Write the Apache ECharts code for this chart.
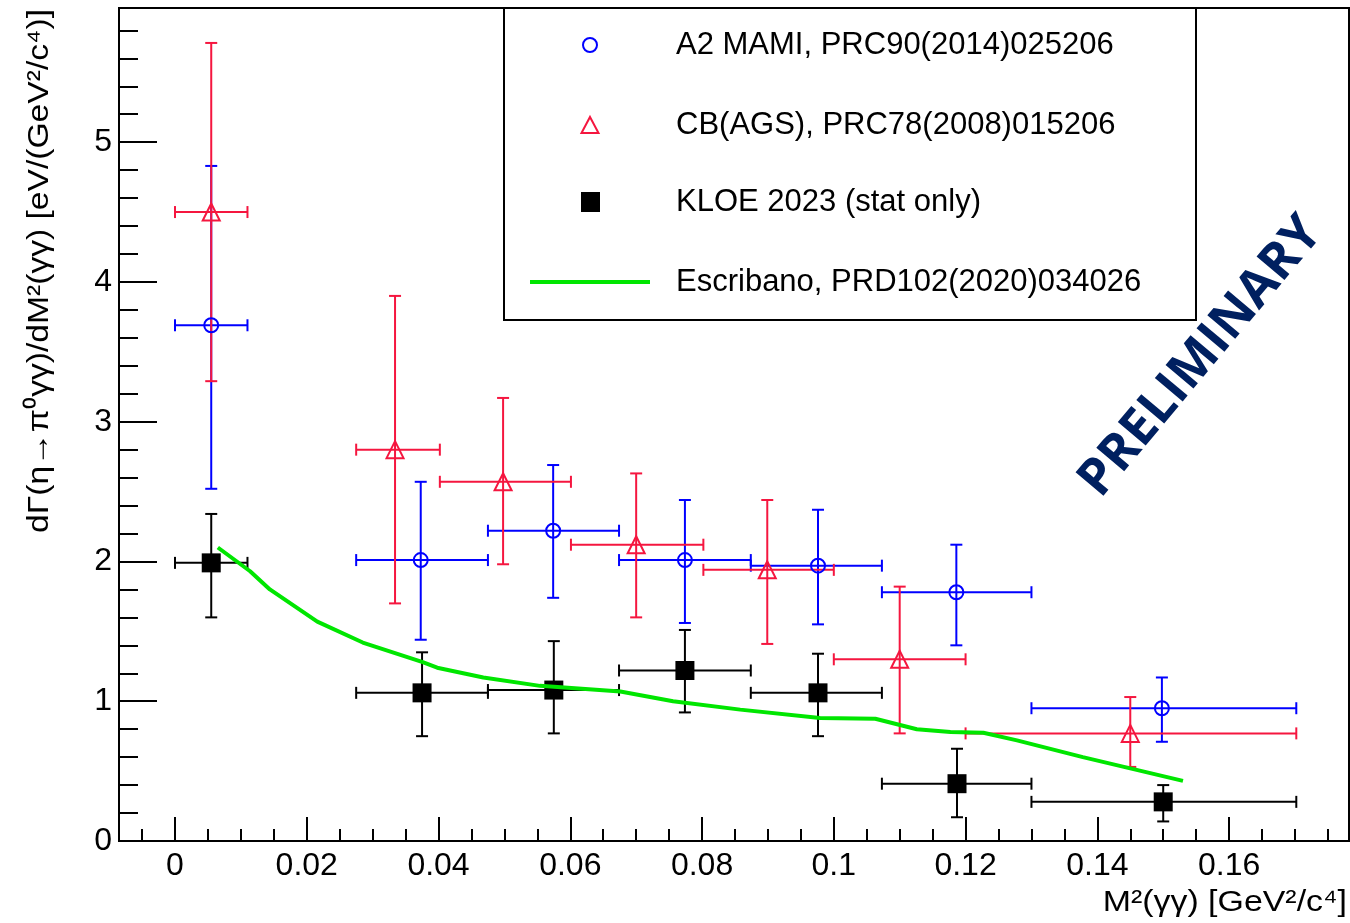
<!DOCTYPE html>
<html><head><meta charset="utf-8">
<script src="https://cdn.jsdelivr.net/npm/echarts@6/dist/echarts.min.js"></script>
<style>html,body{margin:0;padding:0;background:#fff}#c{width:1350px;height:923px}</style>
</head><body><div id="c"></div>
<script>
// ---------- data ----------
const a2Name = 'A2 MAMI, PRC90(2014)025206';
const a2X   = [0.0055, 0.0373, 0.0574, 0.0774, 0.0976, 0.1186, 0.1498];
const a2Y   = [3.69, 2.01, 2.22, 2.01, 1.97, 1.78, 0.95];
const a2XLo = [0.0, 0.0275, 0.0475, 0.0674, 0.0874, 0.1073, 0.1300];
const a2XHi = [0.011, 0.0475, 0.0674, 0.0874, 0.1073, 0.1300, 0.1702];
const a2YLo = [2.52, 1.44, 1.74, 1.56, 1.55, 1.40, 0.71];
const a2YHi = [4.83, 2.57, 2.69, 2.44, 2.37, 2.12, 1.17];

const cbName = 'CB(AGS), PRC78(2008)015206';
const cbX   = [0.0055, 0.0334, 0.0498, 0.0700, 0.0899, 0.1100, 0.1450];
const cbY   = [4.50, 2.80, 2.57, 2.12, 1.94, 1.30, 0.77];
const cbXLo = [0.0, 0.0275, 0.0402, 0.0601, 0.0802, 0.1000, 0.1200];
const cbXHi = [0.011, 0.0402, 0.0601, 0.0802, 0.1000, 0.1200, 0.1702];
const cbYLo = [3.29, 1.70, 1.98, 1.60, 1.41, 0.77, 0.53];
const cbYHi = [5.71, 3.90, 3.17, 2.63, 2.44, 1.82, 1.03];

const kName = 'KLOE 2023 (stat only)';
const kX   = [0.0055, 0.0375, 0.0575, 0.0774, 0.0976, 0.1187, 0.1500];
const kY   = [1.99, 1.06, 1.08, 1.22, 1.06, 0.41, 0.28];
const kXLo = [0.0, 0.0275, 0.0475, 0.0674, 0.0874, 0.1073, 0.1300];
const kXHi = [0.011, 0.0475, 0.0674, 0.0874, 0.1073, 0.1300, 0.1702];
const kYLo = [1.60, 0.75, 0.77, 0.92, 0.75, 0.17, 0.14];
const kYHi = [2.34, 1.35, 1.43, 1.51, 1.34, 0.66, 0.40];

const escName = 'Escribano, PRD102(2020)034026';
const escX = [0.0065, 0.0114, 0.0144, 0.0216, 0.0285, 0.0376, 0.0398, 0.0468, 0.0554, 0.0676, 0.0756, 0.0858, 0.0979, 0.1063, 0.1126, 0.1177, 0.1227, 0.1278, 0.1378, 0.1450, 0.1530];
const escY = [2.10, 1.93, 1.80, 1.57, 1.42, 1.28, 1.24, 1.17, 1.11, 1.07, 1.00, 0.94, 0.88, 0.875, 0.80, 0.78, 0.775, 0.72, 0.60, 0.52, 0.43];

const xMajorTicks = [0, 0.02, 0.04, 0.06, 0.08, 0.1, 0.12, 0.14, 0.16];
const xTickLabels = ['0', '0.02', '0.04', '0.06', '0.08', '0.1', '0.12', '0.14', '0.16'];
const xMinorTicks = [-0.005, 0.005, 0.01, 0.015, 0.025, 0.03, 0.035, 0.045, 0.05, 0.055, 0.065, 0.07, 0.075,
  0.085, 0.09, 0.095, 0.105, 0.11, 0.115, 0.125, 0.13, 0.135, 0.145, 0.15, 0.155, 0.165, 0.17, 0.175];
const yMajorTicks = [0, 1, 2, 3, 4, 5];
const yTickLabels = ['0', '1', '2', '3', '4', '5'];
const yMinorTicks = [0.2, 0.4, 0.6, 0.8, 1.2, 1.4, 1.6, 1.8, 2.2, 2.4, 2.6, 2.8, 3.2, 3.4, 3.6, 3.8,
  4.2, 4.4, 4.6, 4.8, 5.2, 5.4, 5.6, 5.8];

const xTitle = 'M²(γγ) [GeV²/c⁴]';
const yTitle = 'dΓ(η→π⁰γγ)/dM²(γγ) [eV/(GeV²/c⁴)]';
const watermark = 'PRELIMINARY';

// ---------- config ----------
const XMIN = -0.0085, XMAX = 0.1782, YMIN = 0, YMAX = 5.96;
const FONT = 'Liberation Sans';
const BLUE = '#0000ff', RED = '#f5163f', BLACK = '#000000', GREEN = '#00e600';

function rows(x, y, xlo, xhi, ylo, yhi) {
  return x.map((v, i) => [v, y[i], xlo[i], xhi[i], ylo[i], yhi[i]]);
}
function labelFor(ticks, labels) {
  return v => { const i = ticks.findIndex(t => Math.abs(t - v) < 1e-9); return i >= 0 ? labels[i] : ''; };
}
function errSeries(data, color) {
  return {
    type: 'custom', xAxisIndex: 0, yAxisIndex: 0, z: 2, silent: true,
    data: data,
    encode: { x: [0, 2, 3], y: [1, 4, 5] },
    renderItem: function (params, api) {
      const x = api.value(0), y = api.value(1);
      const l = api.coord([api.value(2), y]);
      const r = api.coord([api.value(3), y]);
      const b = api.coord([x, api.value(4)]);
      const t = api.coord([x, api.value(5)]);
      const c = 6;
      const st = { stroke: color, lineWidth: 2 };
      const line = (x1, y1, x2, y2) => ({ type: 'line', shape: { x1, y1, x2, y2 }, style: st });
      return {
        type: 'group',
        children: [
          line(l[0], l[1], r[0], r[1]),
          line(l[0], l[1] - c, l[0], l[1] + c),
          line(r[0], r[1] - c, r[0], r[1] + c),
          line(b[0], b[1], t[0], t[1]),
          line(b[0] - c, b[1], b[0] + c, b[1]),
          line(t[0] - c, t[1], t[0] + c, t[1])
        ]
      };
    }
  };
}
function markerSeries(name, x, y, symbol, size, color, filled) {
  return {
    name: name, type: 'scatter', xAxisIndex: 0, yAxisIndex: 0, z: 3, silent: true,
    symbol: symbol, symbolSize: size, symbolKeepAspect: true,
    data: x.map((v, i) => [v, y[i]]),
    itemStyle: filled ? { color: color, opacity: 1 } : { color: 'rgba(0,0,0,0)', borderColor: color, borderWidth: 2, opacity: 1 }
  };
}

// legend drawn as graphic elements (box, icons, texts)
const LX = 590, LTX = 676, LROWS = [45, 125, 202, 282];
function legendText(txt, y) {
  return { type: 'text', x: LTX, y: y, z: 12,
    style: { text: txt, fontFamily: FONT, fontSize: 31, fill: '#000', align: 'left', verticalAlign: 'middle' } };
}
const legendGraphics = [
  { type: 'rect', z: 10, shape: { x: 504, y: 8, width: 692, height: 312 },
    style: { fill: '#fff', stroke: '#000', lineWidth: 2 } },
  { type: 'circle', z: 12, shape: { cx: LX, cy: LROWS[0], r: 7 }, style: { fill: 'none', stroke: BLUE, lineWidth: 2 } },
  { type: 'polygon', z: 12, shape: { points: [[LX, LROWS[1] - 8], [LX + 8.5, LROWS[1] + 8], [LX - 8.5, LROWS[1] + 8]] },
    style: { fill: 'none', stroke: RED, lineWidth: 2 } },
  { type: 'rect', z: 12, shape: { x: LX - 9, y: LROWS[2] - 10, width: 19, height: 20 }, style: { fill: BLACK } },
  { type: 'line', z: 12, shape: { x1: 530, y1: LROWS[3], x2: 650, y2: LROWS[3] }, style: { stroke: GREEN, lineWidth: 4 } },
  legendText(a2Name, LROWS[0]),
  legendText(cbName, LROWS[1]),
  legendText(kName, LROWS[2]),
  legendText(escName, LROWS[3])
];

const chart = echarts.init(document.getElementById('c'), null, { renderer: 'canvas' });
const axisLine = { show: true, onZero: false, lineStyle: { color: '#000', width: 2 } };
chart.setOption({
  animation: false,
  backgroundColor: '#fff',
  grid: { left: 119, top: 8, right: 1, bottom: 82, show: true, borderColor: '#000', borderWidth: 2, backgroundColor: 'transparent' },
  xAxis: [
    { type: 'value', min: XMIN, max: XMAX, position: 'bottom',
      axisLine: axisLine, splitLine: { show: false },
      axisTick: { inside: true, length: 24, customValues: xMajorTicks, lineStyle: { color: '#000', width: 2 } },
      axisLabel: { customValues: xMajorTicks, formatter: labelFor(xMajorTicks, xTickLabels), color: '#000', fontFamily: FONT, fontSize: 32, margin: 9 } },
    { type: 'value', min: XMIN, max: XMAX, position: 'bottom',
      axisLine: { show: false, onZero: false }, splitLine: { show: false }, axisLabel: { show: false },
      axisTick: { inside: true, length: 12, customValues: xMinorTicks, lineStyle: { color: '#000', width: 2 } } }
  ],
  yAxis: [
    { type: 'value', min: YMIN, max: YMAX, position: 'left',
      axisLine: axisLine, splitLine: { show: false },
      axisTick: { inside: true, length: 38, customValues: yMajorTicks, lineStyle: { color: '#000', width: 2 } },
      axisLabel: { customValues: yMajorTicks, formatter: labelFor(yMajorTicks, yTickLabels), color: '#000', fontFamily: FONT, fontSize: 32, margin: 7 } },
    { type: 'value', min: YMIN, max: YMAX, position: 'left',
      axisLine: { show: false, onZero: false }, splitLine: { show: false }, axisLabel: { show: false },
      axisTick: { inside: true, length: 19, customValues: yMinorTicks, lineStyle: { color: '#000', width: 2 } } }
  ],
  graphic: legendGraphics.concat([
    { type: 'text', x: 40, y: 9, rotation: Math.PI / 2, scaleX: 1.12, z: 10,
      style: { text: yTitle, fontFamily: FONT, fontSize: 30, fill: '#000', align: 'right', verticalAlign: 'middle' } },
    { type: 'text', x: 1347, y: 903, scaleX: 1.13, z: 10,
      style: { text: xTitle, fontFamily: FONT, fontSize: 30, fill: '#000', align: 'right', verticalAlign: 'middle' } },
    { type: 'text', x: 1201, y: 357, rotation: 50 * Math.PI / 180, z: 10,
      style: { text: watermark, fontFamily: 'Open Sans', fontWeight: 'bold', fontSize: 51, fill: '#002060', align: 'center', verticalAlign: 'middle' } }
  ]),
  series: [
    errSeries(rows(a2X, a2Y, a2XLo, a2XHi, a2YLo, a2YHi), BLUE),
    errSeries(rows(cbX, cbY, cbXLo, cbXHi, cbYLo, cbYHi), RED),
    errSeries(rows(kX, kY, kXLo, kXHi, kYLo, kYHi), BLACK),
    markerSeries(a2Name, a2X, a2Y, 'circle', 14, BLUE, false),
    markerSeries(cbName, cbX, cbY, 'triangle', 17, RED, false),
    markerSeries(kName, kX, kY, 'rect', 19, BLACK, true),
    { name: escName, type: 'line', xAxisIndex: 0, yAxisIndex: 0, z: 5, silent: true,
      showSymbol: false, symbol: 'none', smooth: false,
      lineStyle: { color: GREEN, width: 4 }, itemStyle: { color: GREEN },
      data: escX.map((v, i) => [v, escY[i]]) }
  ]
});
</script></body></html>
